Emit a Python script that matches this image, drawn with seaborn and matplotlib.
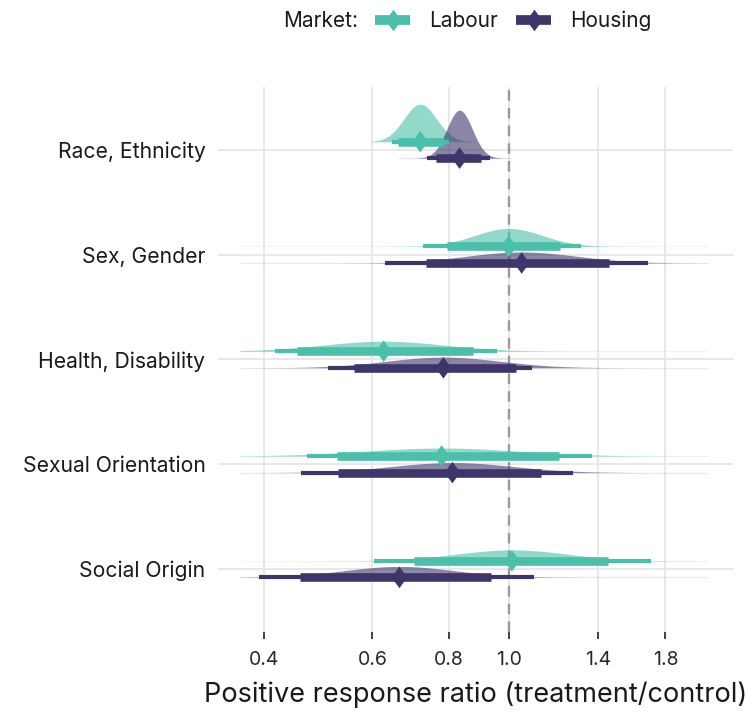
import numpy as np
import pandas as pd
import matplotlib
matplotlib.use("Agg")
import matplotlib.pyplot as plt
from matplotlib.path import Path
from matplotlib.lines import Line2D
from matplotlib.ticker import FixedLocator, FixedFormatter, NullLocator
import seaborn as sns

# ---- data -------------------------------------------------------------
categories = ["Race, Ethnicity", "Sex, Gender", "Health, Disability",
              "Sexual Orientation", "Social Origin"]
markets = ["Labour", "Housing"]

labour_median = [0.718, 1.00, 0.626, 0.778, 1.012]
labour_lo66 = [0.660, 0.793, 0.453, 0.525, 0.702]
labour_hi66 = [0.785, 1.210, 0.874, 1.209, 1.450]
labour_lo95 = [0.645, 0.726, 0.417, 0.470, 0.603]
labour_hi95 = [0.800, 1.310, 0.958, 1.369, 1.704]
labour_sd = [0.061, 0.127, 0.228, 0.286, 0.208]      # log-scale spread of the posterior
labour_range_lo = [0.598, 0.365, 0.365, 0.365, 0.365]
labour_range_hi = [0.880, 2.110, 2.110, 2.110, 2.110]

housing_median = [0.832, 1.050, 0.783, 0.810, 0.664]
housing_lo66 = [0.763, 0.733, 0.561, 0.528, 0.458]
housing_hi66 = [0.900, 1.459, 1.027, 1.130, 0.937]
housing_lo95 = [0.735, 0.629, 0.509, 0.459, 0.393]
housing_hi95 = [0.931, 1.688, 1.093, 1.272, 1.100]
housing_sd = [0.0476, 0.208, 0.214, 0.228, 0.208]
housing_range_lo = [0.660, 0.365, 0.365, 0.365, 0.365]
housing_range_hi = [1.010, 2.110, 2.110, 2.110, 2.110]

x_ticks = [0.4, 0.6, 0.8, 1.0, 1.4, 1.8]
x_tick_labels = ["0.4", "0.6", "0.8", "1.0", "1.4", "1.8"]

palette = {"Labour": "#4ABFA9", "Housing": "#3E356B"}
dodge = {"Labour": -0.079, "Housing": 0.079}

# ---- tidy frame ---------------------------------------------------------
frames = []
for market, cols in [
    ("Labour", (labour_median, labour_lo66, labour_hi66, labour_lo95, labour_hi95,
                labour_sd, labour_range_lo, labour_range_hi)),
    ("Housing", (housing_median, housing_lo66, housing_hi66, housing_lo95, housing_hi95,
                 housing_sd, housing_range_lo, housing_range_hi)),
]:
    frames.append(pd.DataFrame({
        "category": categories, "market": market,
        "median": cols[0], "lo66": cols[1], "hi66": cols[2],
        "lo95": cols[3], "hi95": cols[4], "sd": cols[5],
        "rlo": cols[6], "rhi": cols[7],
    }))
df = pd.concat(frames, ignore_index=True)
cat_index = {c: i for i, c in enumerate(categories)}
df["y"] = df["category"].map(cat_index) + df["market"].map(dodge)

# ---- figure -------------------------------------------------------------
sns.set_theme(style="whitegrid")
plt.rcParams["font.family"] = ["Inter", "DejaVu Sans"]
plt.rcParams["text.color"] = "#1a1a1a"

fig = plt.figure(figsize=(7.54, 7.13), dpi=100)
ax = fig.add_axes([0.2891, 0.1136, 0.683, 0.7644])

# reference line at ratio 1
ax.axvline(1.0, color="#9a9a9a", lw=1.7, ls=(0, (4.5, 3)), zorder=1.5)

# half-eye slabs (density in log space), tallest slab = 0.458 row units
max_height = 0.458
min_sd = df["sd"].min()
for _, r in df.iterrows():
    xs = np.geomspace(r["rlo"], r["rhi"], 600)
    z = (np.log(xs) - np.log(r["median"])) / r["sd"]
    h = np.exp(-0.5 * z ** 2) * (min_sd / r["sd"]) * max_height
    col = palette[r["market"]]
    ax.fill_between(xs, r["y"] - h, r["y"], color=col, alpha=0.6, lw=0, zorder=2)
    ax.plot([r["rlo"], r["rhi"]], [r["y"], r["y"]], color=col, alpha=0.1,
            lw=0.9, zorder=2, solid_capstyle="butt")

# interval bars
for _, r in df.iterrows():
    col = palette[r["market"]]
    ax.plot([r["lo95"], r["hi95"]], [r["y"], r["y"]], color=col, lw=3.0,
            solid_capstyle="butt", zorder=3)
    ax.plot([r["lo66"], r["hi66"]], [r["y"], r["y"]], color=col, lw=6.2,
            solid_capstyle="butt", zorder=3)

# median points (tall diamonds)
diamond = Path([(0, 1), (0.72, 0), (0, -1), (-0.72, 0), (0, 1)],
               [Path.MOVETO, Path.LINETO, Path.LINETO, Path.LINETO, Path.CLOSEPOLY])
sns.scatterplot(data=df, x="median", y="y", hue="market", palette=palette,
                marker=diamond, s=243, linewidth=0, legend=False, ax=ax, zorder=5)

# ---- axes ---------------------------------------------------------------
ax.set_xscale("log")
ax.set_xlim(0.3364, 2.318)
ax.set_ylim(4.6, -0.6)
ax.xaxis.set_major_locator(FixedLocator(x_ticks))
ax.xaxis.set_major_formatter(FixedFormatter(x_tick_labels))
ax.xaxis.set_minor_locator(NullLocator())
ax.set_yticks(range(len(categories)))
ax.set_yticklabels(categories)
ax.grid(True, color="#E6E6E6", lw=1.3)
ax.set_axisbelow(True)
for s in ax.spines.values():
    s.set_visible(False)
ax.tick_params(axis="x", bottom=True, length=5, width=1.3, color="#333333",
               direction="out", labelsize=14, labelcolor="#2a2a2a", pad=9)
ax.tick_params(axis="y", left=False, length=0, labelsize=15.2, labelcolor="#1a1a1a", pad=9)
ax.set_xlabel("Positive response ratio (treatment/control)", fontsize=19.5,
              color="#1a1a1a", labelpad=9)
ax.set_ylabel("")

# ---- legend -------------------------------------------------------------
handles = [Line2D([0], [0], color=palette[m], lw=7, marker=diamond, markersize=15.6,
                  markeredgewidth=0, solid_capstyle="butt") for m in markets]
fig.text(283 / 754, 1 - 21 / 713, "Market:", fontsize=15, va="center", ha="left")
fig.legend(handles, markets, loc="center left", bbox_to_anchor=(375 / 754, 1 - 21 / 713),
           ncol=2, frameon=False, fontsize=15, handlelength=1.68, handletextpad=0.9,
           columnspacing=0.9, borderpad=0, borderaxespad=0)

fig.savefig("out.png", dpi=100)
